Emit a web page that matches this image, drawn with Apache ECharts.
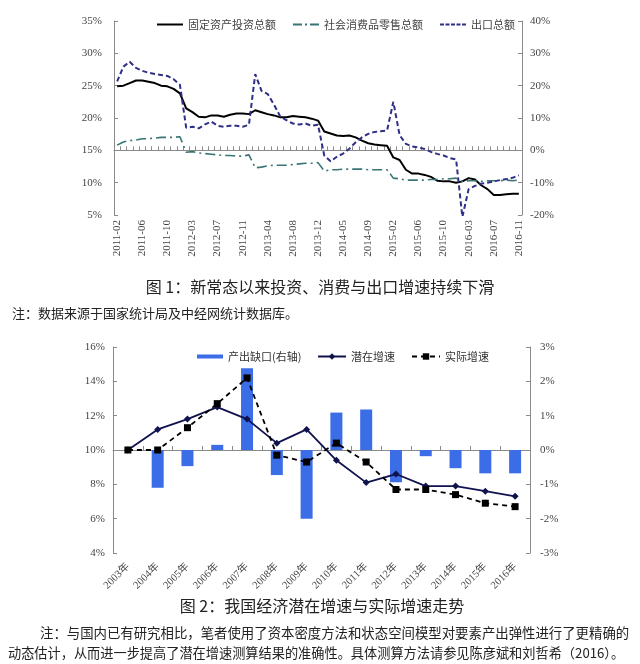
<!DOCTYPE html>
<html><head><meta charset="utf-8">
<script src="https://cdn.jsdelivr.net/npm/echarts@6/dist/echarts.min.js"></script>
<style>html,body{margin:0;padding:0;background:#fff;}#c{width:640px;height:664px;}</style>
</head><body><div id="c"></div>
<script>
// ---------- Chart 1 data ----------
const months = [
 '2011-02','2011-03','2011-04','2011-05','2011-06','2011-07','2011-08','2011-09','2011-10','2011-11','2011-12',
 '2012-02','2012-03','2012-04','2012-05','2012-06','2012-07','2012-08','2012-09','2012-10','2012-11','2012-12',
 '2013-02','2013-03','2013-04','2013-05','2013-06','2013-07','2013-08','2013-09','2013-10','2013-11','2013-12',
 '2014-02','2014-03','2014-04','2014-05','2014-06','2014-07','2014-08','2014-09','2014-10','2014-11','2014-12',
 '2015-02','2015-03','2015-04','2015-05','2015-06','2015-07','2015-08','2015-09','2015-10','2015-11','2015-12',
 '2016-02','2016-03','2016-04','2016-05','2016-06','2016-07','2016-08','2016-09','2016-10','2016-11'
];
const fixedAsset = [
 24.9,25.0,25.4,25.8,25.8,25.6,25.4,25.0,24.9,24.5,23.8,
 21.5,20.9,20.2,20.1,20.4,20.4,20.2,20.5,20.7,20.7,20.6,
 21.2,20.9,20.6,20.4,20.1,20.1,20.3,20.2,20.1,19.9,19.6,
 17.9,17.6,17.3,17.2,17.3,17.0,16.5,16.1,15.9,15.8,15.7,
 13.9,13.5,12.0,11.4,11.4,11.2,10.9,10.3,10.2,10.2,10.0,
 10.2,10.7,10.5,9.6,9.0,8.1,8.1,8.2,8.3,8.3
];
const retail = [
 15.8,16.3,16.5,16.6,16.8,16.8,16.9,17.0,17.0,17.0,17.1,
 14.7,14.8,14.6,14.5,14.4,14.3,14.2,14.2,14.1,14.1,14.3,
 12.3,12.4,12.6,12.7,12.7,12.7,12.8,12.9,13.0,13.0,13.1,
 11.8,12.0,12.0,12.1,12.1,12.1,12.1,12.0,12.0,12.0,12.0,
 10.7,10.6,10.4,10.4,10.4,10.4,10.5,10.5,10.6,10.6,10.7,
 10.2,10.3,10.3,10.2,10.3,10.3,10.3,10.4,10.3,10.4
];
const exportsTotal = [
 21.3,25.9,27.4,25.5,24.6,24.0,23.6,23.3,23.0,22.0,20.3,
 7.0,7.3,6.8,8.0,8.9,7.6,7.3,7.6,7.6,7.3,7.9,
 23.6,18.4,17.4,14.1,10.4,9.3,8.3,8.0,8.3,7.6,7.9,
 -1.6,-3.4,-2.0,-1.0,0.5,2.5,4.0,5.1,5.7,5.9,6.1,
 15.0,4.7,2.0,1.2,0.9,0.4,-0.5,-1.1,-1.6,-2.4,-2.8,
 -20.6,-12.0,-11.0,-10.3,-10.0,-9.6,-9.2,-8.9,-8.5,-7.7
];
// ---------- Chart 2 data ----------
const years = ['2003年','2004年','2005年','2006年','2007年','2008年','2009年','2010年','2011年','2012年','2013年','2014年','2015年','2016年'];
const outputGap = [0,-1.1,-0.47,0.15,2.38,-0.73,-2.0,1.09,1.18,-0.94,-0.18,-0.53,-0.68,-0.68];
const potentialGrowth = [10.0,11.2,11.8,12.5,11.8,10.4,11.2,9.4,8.1,8.6,7.9,7.9,7.6,7.3];
const actualGrowth = [10.0,10.0,11.3,12.7,14.2,9.7,9.3,10.4,9.3,7.7,7.7,7.4,6.9,6.7];

const SERIF = '"Liberation Serif","Noto Sans CJK SC",serif';
const CJK = '"Noto Sans CJK SC",sans-serif';
const axisCol = '#8a8a8a';
const ICON_SOLID = 'path://M0,0H26V2H0Z';
const ICON_DASHDOT = 'path://M0,0H9V2H0Z M12,0H14V2H12Z M17,0H26V2H17Z';
const ICON_DASH = 'path://M0,0H4V2H0Z M5.5,0H9.5V2H5.5Z M11,0H15V2H11Z M16.5,0H20.5V2H16.5Z M22,0H26V2H22Z';
function yAx(grid, pos, min, max, interval, margin){
  return {type:'value', gridIndex:grid, position:pos, min:min, max:max, interval:interval,
    axisLine:{show:true, lineStyle:{color:axisCol, width:1}},
    axisTick:{show:true, inside:true, length:4, lineStyle:{color:axisCol}},
    splitLine:{show:false},
    axisLabel:{formatter:'{value}%', fontFamily:SERIF, fontSize:11, color:'#444', margin:margin}};
}
const chart = echarts.init(document.getElementById('c'), null, {renderer:'canvas'});
chart.setOption({
  backgroundColor:'#fff',
  animation:false,
  grid:[
    {left:114, right:118, top:21, height:194},
    {left:113, right:110, top:347, height:206}
  ],
  legend:[
    {left:152, top:14, itemWidth:26, itemHeight:2, itemGap:17,
     data:[{name:'固定资产投资总额', icon:ICON_SOLID},{name:'社会消费品零售总额', icon:ICON_DASHDOT},{name:'出口总额', icon:ICON_DASH}],
     textStyle:{fontFamily:CJK, fontSize:11, color:'#444'}},
    {left:192, top:346, itemWidth:26, itemHeight:4, data:[{name:'产出缺口(右轴)', icon:'rect'}],
     textStyle:{fontFamily:CJK, fontSize:11, color:'#333'}},
    {left:312, top:346, itemWidth:28, itemHeight:8, itemGap:16, data:['潜在增速','实际增速'],
     textStyle:{fontFamily:CJK, fontSize:11, color:'#333'}}
  ],
  xAxis:[
    {type:'category', gridIndex:0, data:months, boundaryGap:true,
     axisLine:{lineStyle:{color:axisCol}},
     axisTick:{show:true, inside:true, interval:0, length:4, lineStyle:{color:axisCol}},
     axisLabel:{interval:3, rotate:90, fontFamily:SERIF, fontSize:11, color:'#444', margin:5}},
    {type:'category', gridIndex:1, data:years, boundaryGap:true,
     axisLine:{lineStyle:{color:axisCol}},
     axisTick:{show:true, inside:true, interval:0, length:4, lineStyle:{color:axisCol}},
     axisLabel:{interval:0, rotate:45, fontFamily:SERIF, fontSize:10.5, color:'#444', margin:12}}
  ],
  yAxis:[
    yAx(0,'left',5,35,5,12),
    yAx(0,'right',-20,40,10,8),
    yAx(1,'left',4,16,2,8),
    yAx(1,'right',-3,3,1,10)
  ],
  series:[
    {name:'固定资产投资总额', type:'line', xAxisIndex:0, yAxisIndex:0, data:fixedAsset,
     symbol:'none', color:'#000', lineStyle:{color:'#000', width:2}},
    {name:'社会消费品零售总额', type:'line', xAxisIndex:0, yAxisIndex:0, data:retail,
     symbol:'none', color:'#3a7576', lineStyle:{color:'#3a7576', width:1.6, type:[10,4,2,4]}},
    {name:'出口总额', type:'line', xAxisIndex:0, yAxisIndex:1, data:exportsTotal,
     symbol:'none', color:'#2f2f86', lineStyle:{color:'#2f2f86', width:2, type:[5,3]}},
    {name:'产出缺口(右轴)', type:'bar', xAxisIndex:1, yAxisIndex:3, data:outputGap,
     barWidth:12, color:'#3b6de6', itemStyle:{color:'#3b6de6'}},
    {name:'潜在增速', type:'line', xAxisIndex:1, yAxisIndex:2, data:potentialGrowth,
     symbol:'diamond', symbolSize:7, color:'#10124e', lineStyle:{color:'#10124e', width:1.8},
     itemStyle:{color:'#10124e'}},
    {name:'实际增速', type:'line', xAxisIndex:1, yAxisIndex:2, data:actualGrowth,
     symbol:'rect', symbolSize:7, color:'#000', lineStyle:{color:'#000', width:1.8, type:[5,4]},
     itemStyle:{color:'#000'}}
  ],
  graphic:[
    {type:'text', x:320, y:287, style:{text:'图 1：新常态以来投资、消费与出口增速持续下滑', font:'16px '+CJK, fill:'#222', textAlign:'center', textVerticalAlign:'middle'}},
    {type:'text', x:12, y:313, style:{text:'注：数据来源于国家统计局及中经网统计数据库。', font:'13px '+CJK, fill:'#222', textAlign:'left', textVerticalAlign:'middle'}},
    {type:'text', x:322, y:606, style:{text:'图 2：我国经济潜在增速与实际增速走势', font:'16px '+CJK, fill:'#222', textAlign:'center', textVerticalAlign:'middle'}},
    {type:'text', x:40, y:633, style:{text:'注：与国内已有研究相比，笔者使用了资本密度方法和状态空间模型对要素产出弹性进行了更精确的', font:'13.4px '+CJK, fill:'#222', textAlign:'left', textVerticalAlign:'middle'}},
    {type:'text', x:8, y:653, style:{text:'动态估计，从而进一步提高了潜在增速测算结果的准确性。具体测算方法请参见陈彦斌和刘哲希（2016）。', font:'13.2px '+CJK, fill:'#222', textAlign:'left', textVerticalAlign:'middle'}}
  ]
});
</script>
</body></html>
